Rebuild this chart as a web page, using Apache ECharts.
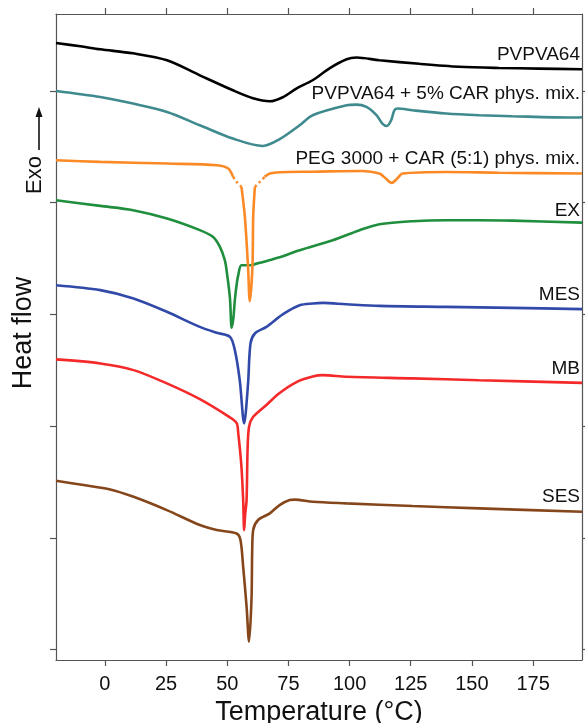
<!DOCTYPE html>
<html>
<head>
<meta charset="utf-8">
<script src="https://cdn.jsdelivr.net/npm/echarts@6/dist/echarts.min.js"></script>
<style>
  html, body { margin: 0; padding: 0; background: #fff; }
  #main { width: 585px; height: 723px; }
</style>
</head>
<body>
<div id="main"></div>
<script>
// tick positions
const xTicks = [0, 25, 50, 75, 100, 125, 150, 175];
const yTicks = [0, 1, 2, 3, 4, 5];

// PVPVA64
const pvpvaT = [-20, -10, -2, 11.5, 25.4, 38.8, 52.3, 60.5, 67.4, 72.7, 78.4, 84.9, 91.8, 98.8, 102.8, 112.2, 128.5, 144.8, 161.1, 177.4, 195];
const pvpvaY = [5.429, 5.400, 5.373, 5.337, 5.275, 5.140, 5.006, 4.935, 4.908, 4.944, 5.024, 5.096, 5.203, 5.284, 5.299, 5.275, 5.243, 5.217, 5.206, 5.200, 5.194];

// PVPVA64 + 5% CAR phys. mix.
const mixT = [-20, -1.9, 11.5, 25.4, 38.8, 52.3, 64.5, 71.4, 79.6, 84.9, 98.8, 102.8, 106.9, 111.0, 113.4, 115.2, 117.0, 118.3, 119.7, 125.7, 139.5, 153.0, 166.5, 191.0, 195];
const mixY = [5.000, 4.946, 4.887, 4.812, 4.693, 4.574, 4.508, 4.568, 4.693, 4.783, 4.872, 4.878, 4.857, 4.783, 4.708, 4.687, 4.738, 4.827, 4.843, 4.827, 4.798, 4.783, 4.774, 4.762, 4.765];

// PEG 3000 + CAR (5:1) phys. mix. (solid part, gaps where the trace is dotted)
const pegT = [-20, -1.9, 25.4, 45.8, 50.4, 52.4, 54, 55.8, 57.2, 58.5, 59.2, 60.3, 60.6, 61.3, 63, 65.3, 67.4, 71.4, 84.9, 105.3, 112.2, 114.7, 117.2, 119.6, 121.6, 139.5, 161.1, 195];
const pegY = [4.380, 4.365, 4.350, 4.335, 4.306, 4.231, null, 4.141, 3.873, 3.425, 3.118, 3.425, 3.873, 4.141, null, 4.231, 4.261, 4.273, 4.277, 4.284, 4.261, 4.219, 4.177, 4.219, 4.261, 4.275, 4.268, 4.261];
// dotted parts of the same trace
const pegDotT = [52.4, 53.8, 55.8, 58, 61.3, 63.3, 65.3];
const pegDotY = [4.231, 4.186, 4.141, null, 4.141, 4.186, 4.231];

// EX
const exT = [-20, -1.9, 11.5, 25.4, 38.8, 44.1, 47.0, 49.0, 49.9, 51.1, 51.8, 52.5, 53.1, 53.8, 54.5, 55.8, 59.2, 60.6, 64.6, 71.4, 79.6, 93.1, 104.1, 112.2, 125.7, 139.5, 153.0, 166.5, 195];
const exY = [4.022, 3.971, 3.933, 3.858, 3.754, 3.694, 3.604, 3.485, 3.366, 3.145, 2.881, 2.966, 3.127, 3.261, 3.351, 3.440, 3.440, 3.445, 3.470, 3.512, 3.575, 3.664, 3.754, 3.807, 3.834, 3.843, 3.843, 3.839, 3.821];

// MES
const mesT = [-20, -1.9, 11.7, 25.3, 38.8, 45.7, 51.1, 53.1, 55.1, 56.9, 58.5, 59.5, 61.3, 66.0, 72.8, 79.6, 85.0, 89.1, 98.6, 112.2, 139.4, 166.5, 195];
const mesY = [3.261, 3.217, 3.142, 3.023, 2.888, 2.835, 2.799, 2.680, 2.411, 2.024, 2.381, 2.740, 2.829, 2.888, 3.002, 3.082, 3.098, 3.103, 3.091, 3.076, 3.067, 3.058, 3.047];

// MB
const mbT = [-20, -1.9, 11.7, 25.3, 38.8, 50.3, 53.8, 54.5, 55.8, 56.5, 56.9, 57.3, 57.9, 58.3, 58.9, 60.6, 66.0, 71.4, 78.3, 84.9, 89.0, 98.8, 125.7, 153.0, 195];
const mbY = [2.597, 2.561, 2.501, 2.382, 2.241, 2.089, 2.029, 1.934, 1.636, 1.338, 1.069, 1.203, 1.338, 1.785, 1.994, 2.083, 2.189, 2.296, 2.394, 2.443, 2.456, 2.441, 2.427, 2.411, 2.387];

// SES
const sesT = [-20, -8.7, 2.2, 11.7, 25.3, 38.8, 45.7, 53.8, 55.4, 56.5, 57.9, 58.9, 59.9, 60.2, 60.6, 62.6, 67.4, 71.4, 75.5, 77.6, 85.0, 98.6, 125.8, 153.0, 195];
const sesY = [1.510, 1.472, 1.433, 1.367, 1.248, 1.114, 1.069, 1.038, 0.980, 0.741, 0.383, 0.070, 0.443, 0.890, 1.069, 1.159, 1.219, 1.293, 1.338, 1.342, 1.322, 1.308, 1.284, 1.263, 1.233];

const curveNames = ['PVPVA64', 'PVPVA64 + 5% CAR phys. mix.', 'PEG 3000 + CAR (5:1) phys. mix.', 'EX', 'MES', 'MB', 'SES'];
const curveColors = ['#000000', '#3e8a8e', '#fb8a26', '#1f8e3d', '#3149a8', '#f42a2a', '#86461b'];
const labelY = [56, 95, 160, 212, 296, 370, 498];

function pairs(xs, ys) {
  return xs.map((x, i) => [x, ys[i] === null ? '-' : ys[i]]);
}

const font = '"Liberation Sans", Arial, Helvetica, sans-serif';
const axisColor = '#555';

const curves = [
  [pvpvaT, pvpvaY], [mixT, mixY], [pegT, pegY], [exT, exY],
  [mesT, mesY], [mbT, mbY], [sesT, sesY]
];

const series = curves.map((c, i) => ({
  name: curveNames[i],
  type: 'line',
  data: pairs(c[0], c[1]),
  showSymbol: false,
  smooth: 0.3,
  connectNulls: false,
  lineStyle: { color: curveColors[i], width: 2.6 },
  itemStyle: { color: curveColors[i] },
  z: 10 - i
}));

series.push({
  name: 'PEG dotted',
  type: 'line',
  data: pairs(pegDotT, pegDotY),
  showSymbol: false,
  smooth: 0.3,
  connectNulls: false,
  lineStyle: { color: curveColors[2], width: 2.6, type: [2.5, 3] },
  z: 8
});

const myChart = echarts.init(document.getElementById('main'));

const tickStyle = { color: axisColor, width: 1.2 };

myChart.setOption({
  animation: false,
  backgroundColor: '#fff',
  grid: { left: 56, right: 3, top: 14, bottom: 63, outerBoundsMode: 'none' },
  xAxis: [{
    type: 'value',
    position: 'bottom',
    min: -20,
    max: 195,
    name: 'Temperature (°C)',
    nameLocation: 'middle',
    nameGap: 37,
    nameTextStyle: { fontFamily: font, fontSize: 27, color: '#111' },
    axisLine: { show: true, onZero: false, lineStyle: tickStyle },
    axisTick: { show: true, length: 6, customValues: xTicks, lineStyle: tickStyle },
    axisLabel: { show: true, customValues: xTicks, margin: 14, fontFamily: font, fontSize: 20, color: '#111' },
    splitLine: { show: false }
  }, {
    type: 'value',
    position: 'top',
    min: -20,
    max: 195,
    axisLine: { show: true, onZero: false, lineStyle: tickStyle },
    axisTick: { show: true, length: 6, customValues: xTicks, lineStyle: tickStyle },
    axisLabel: { show: false },
    splitLine: { show: false }
  }],
  yAxis: [{
    type: 'value',
    position: 'left',
    min: -0.094,
    max: 5.689,
    axisLine: { show: true, onZero: false, lineStyle: tickStyle },
    axisTick: { show: true, length: 6, customValues: yTicks, lineStyle: tickStyle },
    axisLabel: { show: false },
    splitLine: { show: false }
  }, {
    type: 'value',
    position: 'right',
    min: -0.094,
    max: 5.689,
    axisLine: { show: true, onZero: false, lineStyle: tickStyle },
    axisTick: { show: true, length: 6, customValues: yTicks, lineStyle: tickStyle },
    axisLabel: { show: false },
    splitLine: { show: false }
  }],
  graphic: curveNames.map((n, i) => ({
    type: 'text',
    right: 5,
    top: labelY[i] - 11,
    style: { text: n, fontFamily: font, fontSize: 19, fill: '#111' },
    z: 100
  })).concat([
    {
      type: 'text',
      x: 24,
      y: 333,
      rotation: Math.PI / 2,
      style: { text: 'Heat flow', fontFamily: font, fontSize: 27, fill: '#111', align: 'center', verticalAlign: 'middle' },
      z: 100
    },
    {
      type: 'text',
      x: 35,
      y: 175,
      rotation: Math.PI / 2,
      style: { text: 'Exo', fontFamily: font, fontSize: 22, fill: '#111', align: 'center', verticalAlign: 'middle' },
      z: 100
    },
    {
      type: 'line',
      shape: { x1: 39, y1: 150, x2: 39, y2: 114 },
      style: { stroke: '#111', lineWidth: 1.6 },
      z: 100
    },
    {
      type: 'polygon',
      shape: { points: [[39, 107], [35.5, 117], [42.5, 117]] },
      style: { fill: '#111' },
      z: 100
    }
  ]),
  series: series
});
</script>
</body>
</html>
